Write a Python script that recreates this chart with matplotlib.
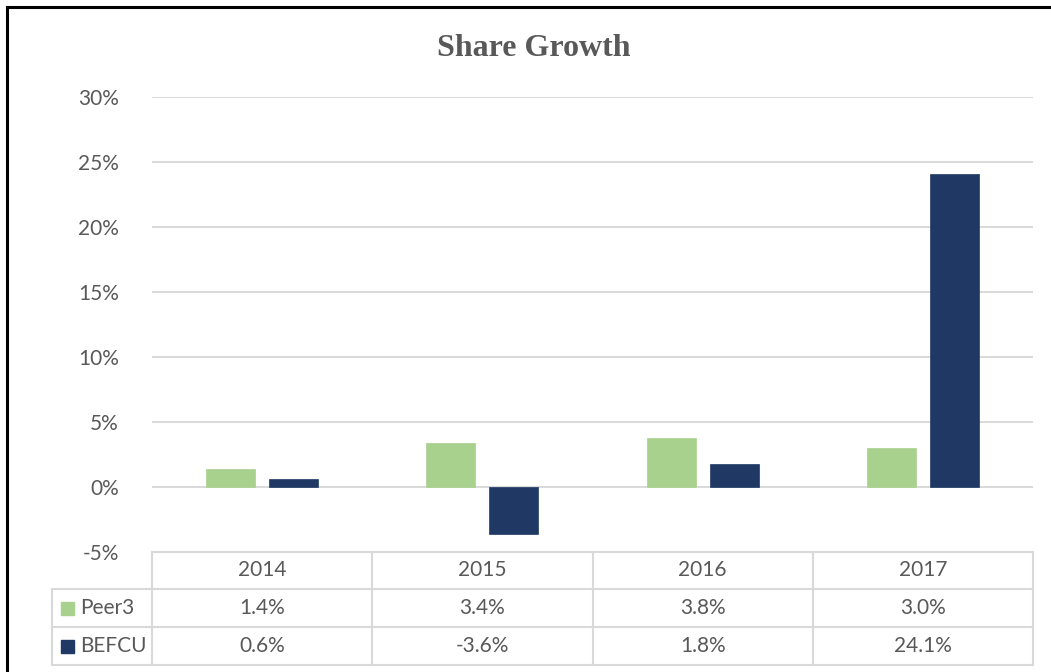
import matplotlib
matplotlib.use("Agg")
import matplotlib.pyplot as plt
from matplotlib.lines import Line2D
from matplotlib.patches import Rectangle

# ---- data ----
years = ["2014", "2015", "2016", "2017"]
series_names = ["Peer3", "BEFCU"]
peer3 = [1.4, 3.4, 3.8, 3.0]
befcu = [0.6, -3.6, 1.8, 24.1]
yticks = [-5, 0, 5, 10, 15, 20, 25, 30]

colors = ["#A9D18E", "#203864"]
text_color = "#595959"
grid_color = "#D9D9D9"
font = "Lato"

W, H = 1051, 672
fig = plt.figure(figsize=(W / 100, H / 100), dpi=100)
fig.patch.set_facecolor("white")

def fx(x):
    return x / W

def fy(y):
    return 1 - y / H

# plot area in pixel coordinates
L, R, T, B = 152, 1033, 97, 552
ax = fig.add_axes([fx(L), fy(B), fx(R) - fx(L), fy(T) - fy(B)])
ax.set_xlim(-0.5, len(years) - 0.5)
ax.set_ylim(min(yticks), max(yticks))
ax.set_yticks(yticks)
ax.set_yticklabels([f"{t}%" for t in yticks], fontfamily=font, fontsize=15, color=text_color)
ax.tick_params(axis="y", length=0, pad=24)
ax.set_xticks([])
for s in ax.spines.values():
    s.set_visible(False)
ax.yaxis.grid(True, color=grid_color, lw=1.4)
ax.set_axisbelow(True)

bw = 0.223
off = 0.143
xs = list(range(len(years)))
for vals, c, d in [(peer3, colors[0], -off), (befcu, colors[1], off)]:
    ax.bar([x + d for x in xs], vals, width=bw, color=c, edgecolor=c, lw=0.5, zorder=3)

# title
fig.text(fx(534), fy(48), "Share Growth", ha="center", va="center",
         fontfamily="Liberation Serif", fontweight="bold", fontsize=23, color=text_color)

# ---- data table ----
row_y = [552, 589, 627, 665]
col_x = [L + i * (R - L) / len(years) for i in range(len(years) + 1)]
leg_left = 52
lw_t = 1.5

def hline(x0, x1, y):
    fig.add_artist(Line2D([fx(x0), fx(x1)], [fy(y), fy(y)], color=grid_color, lw=lw_t,
                          transform=fig.transFigure))

def vline(x, y0, y1):
    fig.add_artist(Line2D([fx(x), fx(x)], [fy(y0), fy(y1)], color=grid_color, lw=lw_t,
                          transform=fig.transFigure))

hline(L, R, row_y[0])
for y in row_y[1:]:
    hline(leg_left, R, y)
for x in col_x:
    vline(x, row_y[0], row_y[-1])
vline(leg_left, row_y[1], row_y[-1])

for i, yr in enumerate(years):
    cx = (col_x[i] + col_x[i + 1]) / 2
    fig.text(fx(cx), fy((row_y[0] + row_y[1]) / 2), yr, ha="center", va="center",
             fontfamily=font, fontsize=15, color=text_color)

for r, (name, vals, c) in enumerate(zip(series_names, [peer3, befcu], colors)):
    cy = (row_y[r + 1] + row_y[r + 2]) / 2
    fig.add_artist(Rectangle((fx(61), fy(cy + 6.5)), fx(13), 13 / H, color=c,
                             transform=fig.transFigure))
    fig.text(fx(80), fy(cy), name, ha="left", va="center",
             fontfamily=font, fontsize=15, color=text_color)
    for i, v in enumerate(vals):
        cx = (col_x[i] + col_x[i + 1]) / 2
        fig.text(fx(cx), fy(cy), f"{v:.1f}%", ha="center", va="center",
                 fontfamily=font, fontsize=15, color=text_color)

# outer black border (left and top visible)
fig.add_artist(Line2D([fx(7), fx(7)], [fy(7), 0], color="black", lw=2.2, transform=fig.transFigure))
fig.add_artist(Line2D([fx(7), 1], [fy(7), fy(7)], color="black", lw=2.2, transform=fig.transFigure))

fig.savefig("out.png", dpi=100)
